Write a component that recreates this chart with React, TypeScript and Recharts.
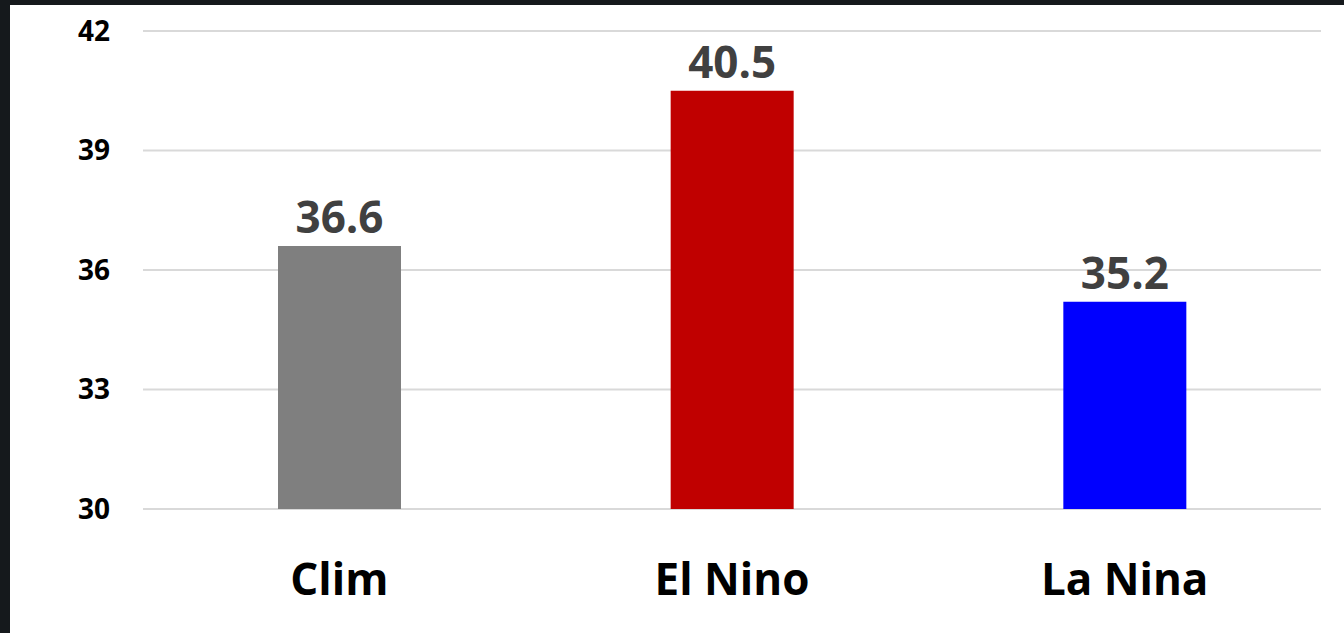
import { BarChart, Bar, XAxis, YAxis, CartesianGrid, LabelList, Cell } from "recharts";

const categories = ["Clim", "El Nino", "La Nina"];
const values = [36.6, 40.5, 35.2];
const barColors = ["#7f7f7f", "#c00000", "#0000ff"];
const yTicks = [30, 33, 36, 39, 42];

const data = categories.map((name, i) => ({ name, value: values[i] }));

const font = "'Open Sans', 'DejaVu Sans', sans-serif";

export default function App() {
  return (
    <div style={{ position: "absolute", left: 0, top: 0, width: 1344, height: 633, background: "#15191c" }}>
      <div style={{ position: "absolute", left: 10, top: 5, width: 1334, height: 628, background: "#fff" }}>
        <BarChart
          width={1334}
          height={628}
          data={data}
          margin={{ top: 26, right: 23, left: 33, bottom: 24 }}
        >
          <CartesianGrid vertical={false} stroke="#d9d9d9" strokeWidth={2} />
          <XAxis
            dataKey="name"
            height={100}
            axisLine={false}
            tickLine={false}
            tickSize={0}
            tickMargin={55}
            tick={{ fontSize: 44, fontWeight: 700, fill: "#000", fontFamily: font }}
          />
          <YAxis
            width={100}
            domain={[30, 42]}
            ticks={yTicks}
            axisLine={false}
            tickLine={false}
            tickSize={0}
            tickMargin={33}
            tick={{ fontSize: 28, fontWeight: 700, fill: "#000", fontFamily: font }}
          />
          <Bar dataKey="value" barSize={123} isAnimationActive={false}>
            {data.map((d, i) => (
              <Cell key={d.name} fill={barColors[i]} />
            ))}
            <LabelList
              dataKey="value"
              position="top"
              offset={13}
              style={{ fontSize: 44, fontWeight: 700, fill: "#404040", fontFamily: font }}
            />
          </Bar>
        </BarChart>
      </div>
    </div>
  );
}
